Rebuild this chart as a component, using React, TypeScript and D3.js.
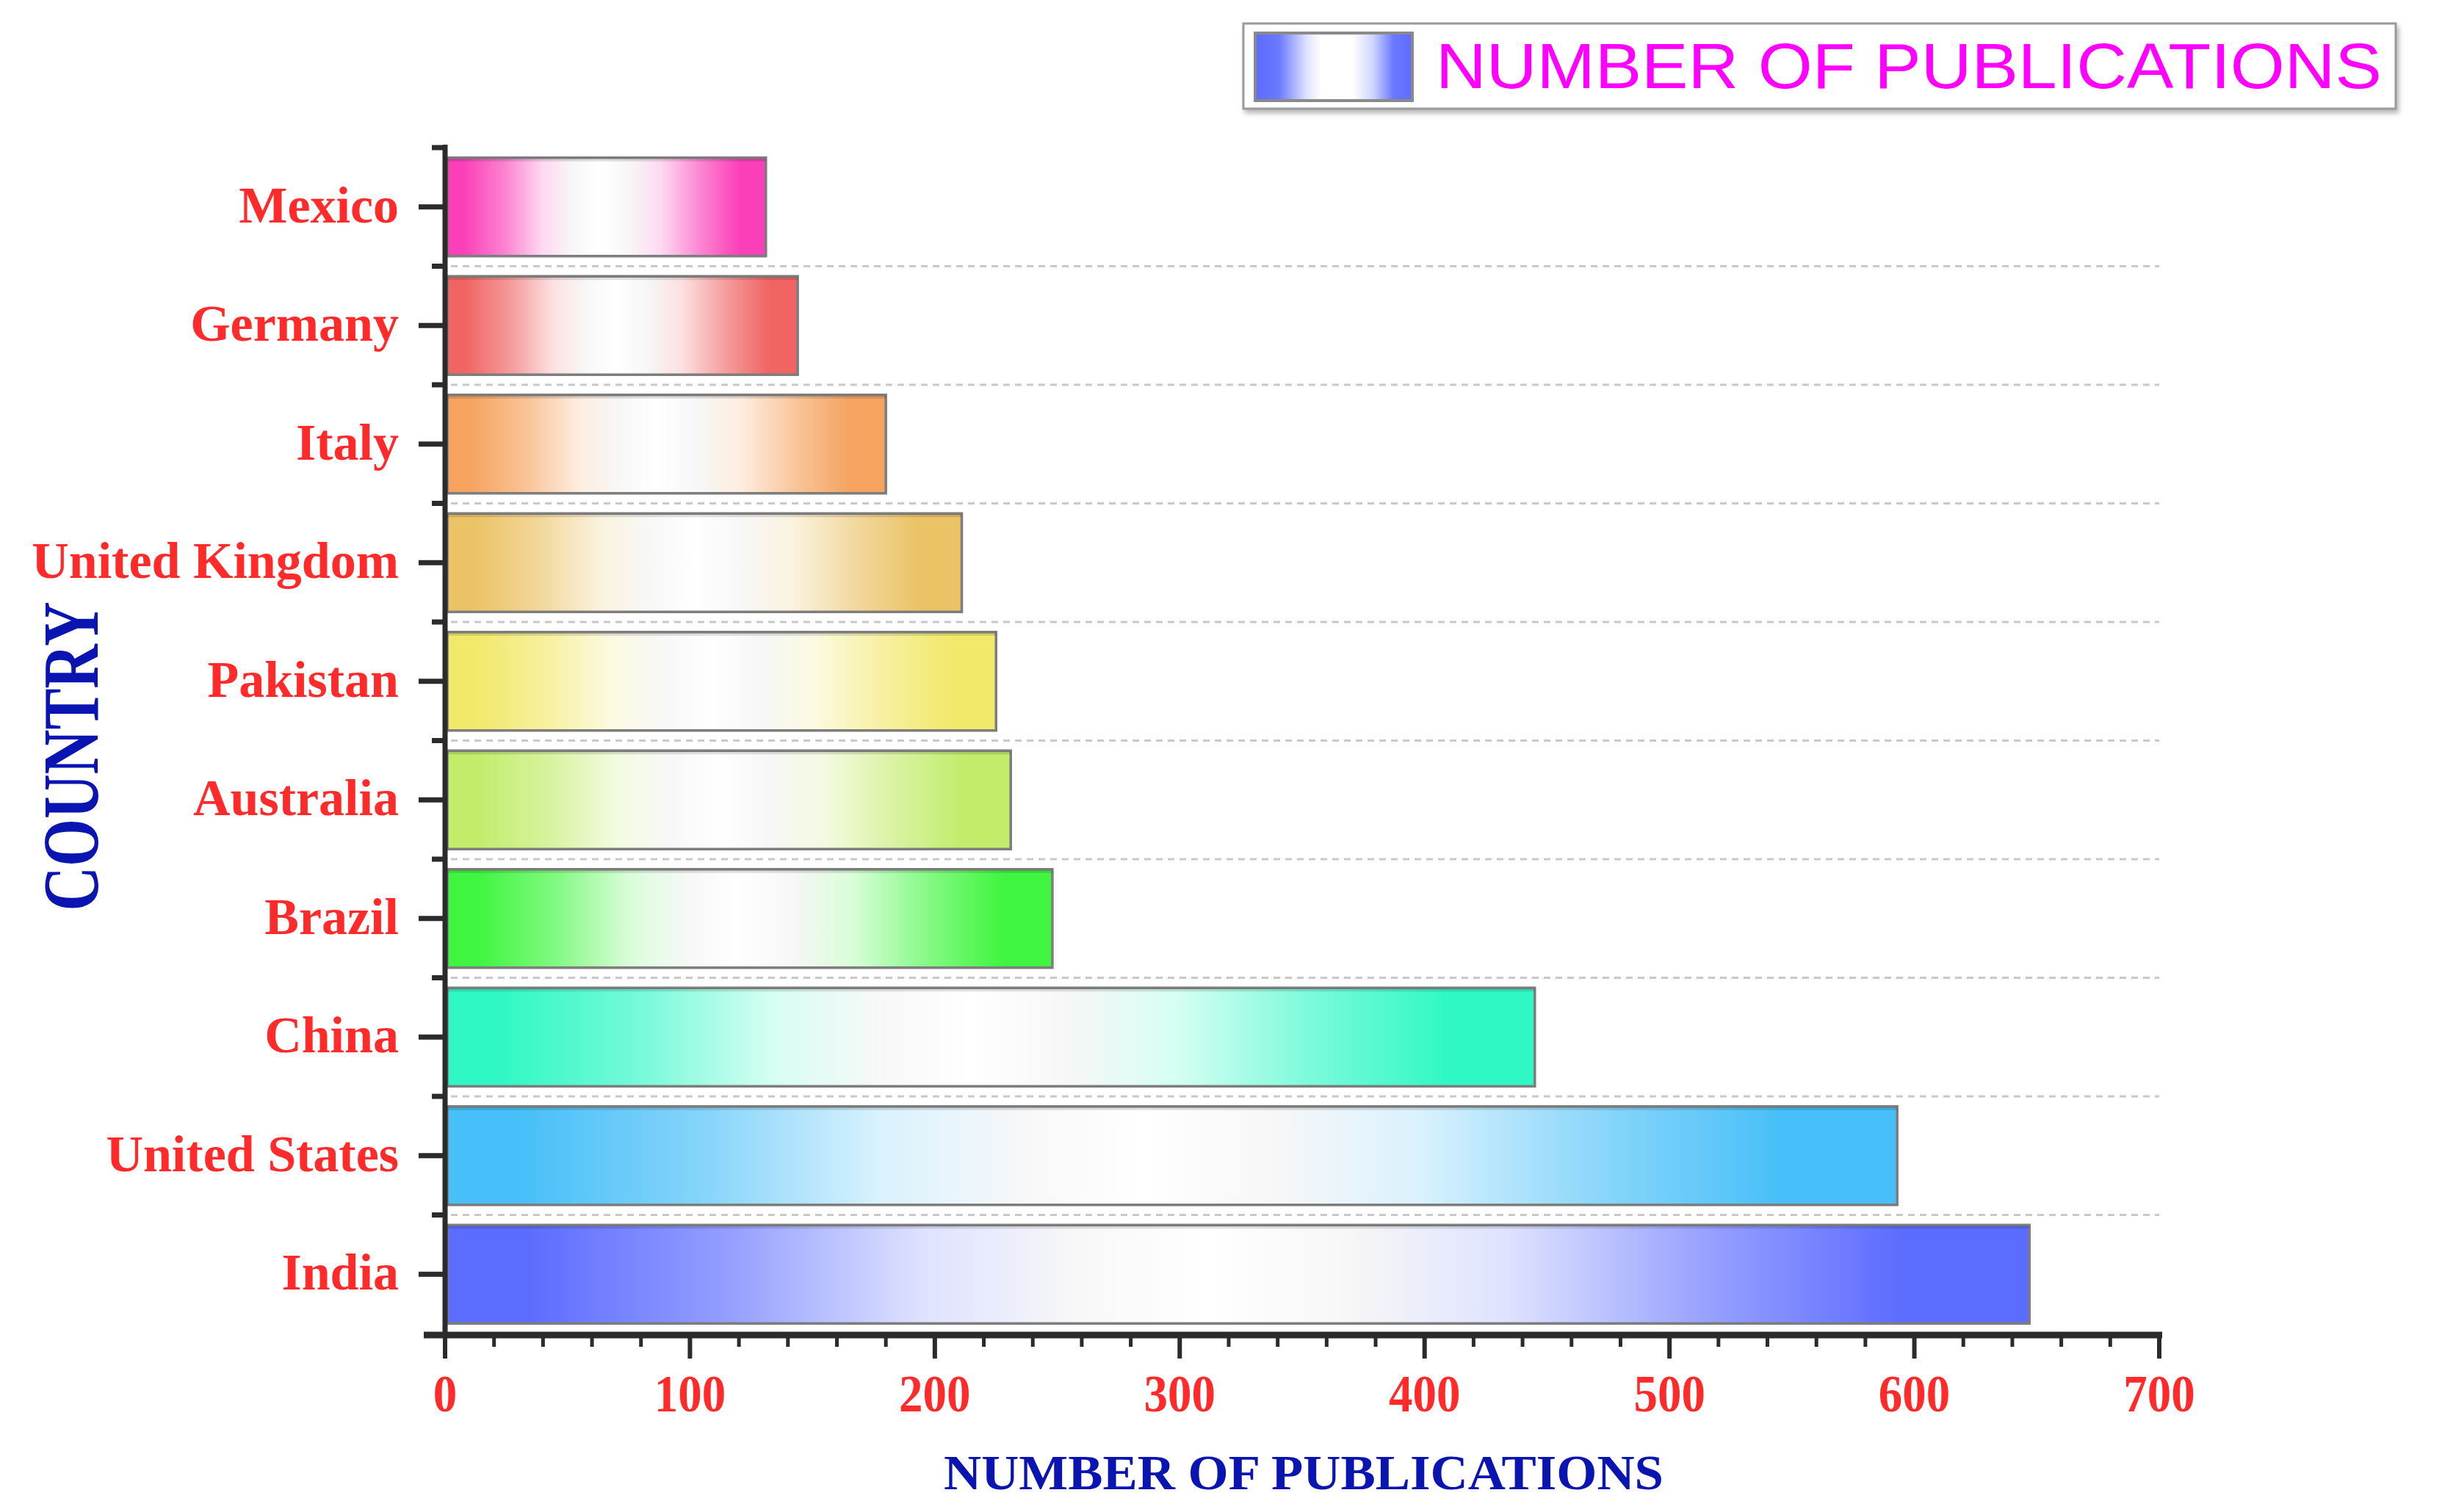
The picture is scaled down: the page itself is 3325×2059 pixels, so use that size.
import React from "react";
import * as d3 from "d3";

const countries = ["Mexico", "Germany", "Italy", "United Kingdom", "Pakistan", "Australia", "Brazil", "China", "United States", "India"];
const publications = [131, 144, 180, 211, 225, 231, 248, 445, 593, 647];
const barColors = ["#fb3fb8", "#f06464", "#f5a35f", "#ebc265", "#f2e86a", "#c2ec6a", "#3ff53f", "#30f8c4", "#47bff8", "#5c6cff"];
const xTicks = [0, 100, 200, 300, 400, 500, 600, 700];
const legendLabel = "NUMBER OF PUBLICATIONS";
const xTitle = "NUMBER OF PUBLICATIONS";
const yTitle = "COUNTRY";

const W = 3325;
const H = 2059;
const left = 606;
const right = 2940;
const top = 201;
const bottom = 1816;

function stops(c: string) {
  const m = (t: number) => d3.interpolateRgb(c, "#ffffff")(t);
  return [
    [0, c],
    [0.05, c],
    [0.18, m(0.35)],
    [0.3, m(0.8)],
    [0.4, "#f8f8f8"],
    [0.48, "#ffffff"],
    [0.57, "#f7f7f7"],
    [0.67, m(0.8)],
    [0.8, m(0.35)],
    [0.92, c],
    [1, c],
  ] as [number, string][];
}

export default function App() {
  const x = d3.scaleLinear().domain([0, 700]).range([left, right]);
  const y = d3.scaleBand<string>().domain(countries).range([top, bottom]).paddingInner(0.17).paddingOuter(0.085);
  const step = y.step();
  const boundaries = d3.range(countries.length + 1).map((i) => top + i * step);
  const minorX = d3.range(0, 701, 20);
  const serif = "'Liberation Serif', 'Times New Roman', serif";

  return (
    <svg width={W} height={H} style={{ position: "absolute", left: 0, top: 0, background: "#fff" }} xmlns="http://www.w3.org/2000/svg">
      <defs>
        {barColors.map((c, i) => (
          <linearGradient key={i} id={`g${i}`} x1="0" x2="1" y1="0" y2="0">
            {stops(c).map(([o, col], j) => (
              <stop key={j} offset={o} stopColor={col} />
            ))}
          </linearGradient>
        ))}
        <linearGradient id="legendG" x1="0" x2="1" y1="0" y2="0">
          <stop offset="0" stopColor="#5c6cff" />
          <stop offset="0.15" stopColor="#6a79ff" />
          <stop offset="0.33" stopColor="#dfe3ff" />
          <stop offset="0.42" stopColor="#ffffff" />
          <stop offset="0.62" stopColor="#ffffff" />
          <stop offset="0.75" stopColor="#cfd5ff" />
          <stop offset="0.88" stopColor="#6a79ff" />
          <stop offset="1" stopColor="#5c6cff" />
        </linearGradient>
        <filter id="shadow" x="-5%" y="-20%" width="110%" height="150%">
          <feDropShadow dx="3" dy="5" stdDeviation="3" floodColor="#888" floodOpacity="0.6" />
        </filter>
      </defs>

      <rect x={0} y={0} width={W} height={H} fill="#fff" />

      {/* gridlines */}
      {boundaries.slice(1, -1).map((b, i) => (
        <line key={i} x1={left + 8} x2={right} y1={b} y2={b} stroke="#c9c9c9" strokeWidth={3} strokeDasharray="9,7" />
      ))}

      {/* bars */}
      {countries.map((c, i) => (
        <g key={c}>
          <rect
            x={x(0) + 3}
            y={y(c)!}
            width={x(publications[i]) - x(0) - 3}
            height={y.bandwidth()}
            fill={`url(#g${i})`}
            stroke="#7d7d7d"
            strokeWidth={3.5}
          />
          <line x1={x(0) + 3} x2={x(publications[i])} y1={y(c)! + 3} y2={y(c)! + 3} stroke="#000" strokeOpacity={0.12} strokeWidth={4} />
        </g>
      ))}

      {/* y axis */}
      <line x1={left} x2={left} y1={top - 4} y2={bottom} stroke="#2b2b2b" strokeWidth={7} />
      {countries.map((c) => (
        <line key={c} x1={left - 36} x2={left} y1={y(c)! + y.bandwidth() / 2} y2={y(c)! + y.bandwidth() / 2} stroke="#2b2b2b" strokeWidth={7} />
      ))}
      {boundaries.slice(0, -1).map((b, i) => (
        <line key={i} x1={left - 18} x2={left} y1={b} y2={b} stroke="#2b2b2b" strokeWidth={7} />
      ))}
      {countries.map((c) => (
        <text
          key={c}
          x={543}
          y={y(c)! + y.bandwidth() / 2 + 21}
          textAnchor="end"
          fontFamily={serif}
          fontWeight="bold"
          fontSize={70}
          fill="#ff2b2b"
        >
          {c}
        </text>
      ))}

      {/* x axis */}
      <line x1={577} x2={right + 4} y1={bottom + 2} y2={bottom + 2} stroke="#2b2b2b" strokeWidth={9} />
      {minorX.map((v) => (
        <line key={v} x1={x(v)} x2={x(v)} y1={bottom} y2={bottom + (v % 100 === 0 ? 34 : 18)} stroke="#2b2b2b" strokeWidth={v % 100 === 0 ? 6 : 5} />
      ))}
      {xTicks.map((v) => (
        <g key={v} transform={`translate(${x(v)},1922) scale(1,1.1)`}>
          <text x={0} y={0} textAnchor="middle" fontFamily={serif} fontWeight="bold" fontSize={65} fill="#ff2b2b">
            {v}
          </text>
        </g>
      ))}

      {/* axis titles */}
      <text x={1775} y={2028} textAnchor="middle" fontFamily={serif} fontWeight="bold" fontSize={68} fill="#0a14b0" textLength={980} lengthAdjust="spacingAndGlyphs">
        {xTitle}
      </text>
      <g transform="translate(106,1030) rotate(-90) scale(1,1.28)">
        <text x={0} y={21} textAnchor="middle" fontFamily={serif} fontWeight="bold" fontSize={84} fill="#0a14b0" textLength={421} lengthAdjust="spacingAndGlyphs">
          {yTitle}
        </text>
      </g>

      {/* legend */}
      <rect x={1693} y={32} width={1569} height={116} fill="#fff" stroke="#9a9a9a" strokeWidth={3} filter="url(#shadow)" />
      <rect x={1709} y={45} width={214} height={92} fill="url(#legendG)" stroke="#8a8a8a" strokeWidth={4} />
      <text x={1955} y={120} fontFamily="'Liberation Sans', Arial, sans-serif" fontSize={88} fill="#ff00ff" textLength={1288} lengthAdjust="spacingAndGlyphs">
        {legendLabel}
      </text>
    </svg>
  );
}
